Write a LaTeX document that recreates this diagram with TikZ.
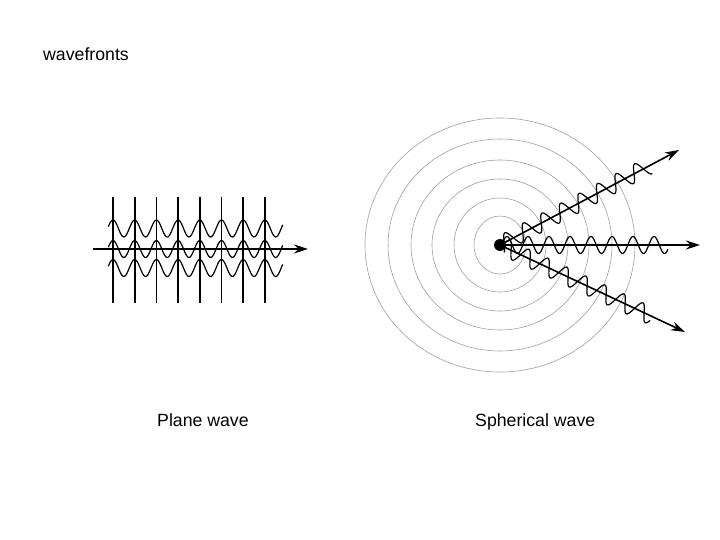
\documentclass[tikz,border=0pt]{standalone}
\usepackage{fontspec}
\setmainfont{Liberation Sans}
\usetikzlibrary{arrows.meta}
\begin{document}
\begin{tikzpicture}[x=1bp,y=-1bp,
		lbl/.style={anchor=base west,inner sep=0pt,font=\fontsize{17.7bp}{21bp}\selectfont},
		ray/.style={line width=1.6bp,-{Stealth[length=14bp,width=9bp]}},
		wiggle/.style={line width=1.2bp,smooth,samples=170},
		ring/.style={gray!75,line width=0.6bp}]
		\useasboundingbox (0,0) rectangle (720,540);
		\node[lbl] (title) at (43,60.5) {wavefronts};
		\node[lbl] (plane) at (157,426.5) {Plane wave};
		\node[lbl] (sphere) at (475,426.5) {Spherical wave};
		\foreach \i in {0,...,7}
			\draw[line width=1.8bp] (113+21.7*\i,197) -- (113+21.7*\i,303);
		\foreach \c in {228.5,249,268}
			\draw[wiggle,domain=108.3:282.7] plot (\x,{\c-8.5*cos((\x-113)*16.59)});
		\coordinate (pw) at (93,249);
		\coordinate (pe) at (308,249);
		\draw[ray] (pw) -- (pe);
		\node[circle,fill,inner sep=0pt,minimum size=12bp] (src) at (500,245) {};
		\foreach \rx/\ry in {26/29,46/47,68/66,89/85,112/106,135/127}
			\draw[ring] (src.center) ellipse [x radius=\rx,y radius=\ry];
		\foreach \a/\p in {28/10,0/7,-25.2/7}
			\draw[wiggle,domain=0:168,shift={(src.center)},rotate=\a] plot (\x,{-8.5*cos((\x-\p)*17.14)});
		\coordinate (ne) at (679,150);
		\coordinate (ea) at (700,245);
		\coordinate (se) at (685,332);
		\foreach \t in {ne,ea,se}
			\draw[ray] (src.center) -- (\t);
	\end{tikzpicture}
\end{document}
